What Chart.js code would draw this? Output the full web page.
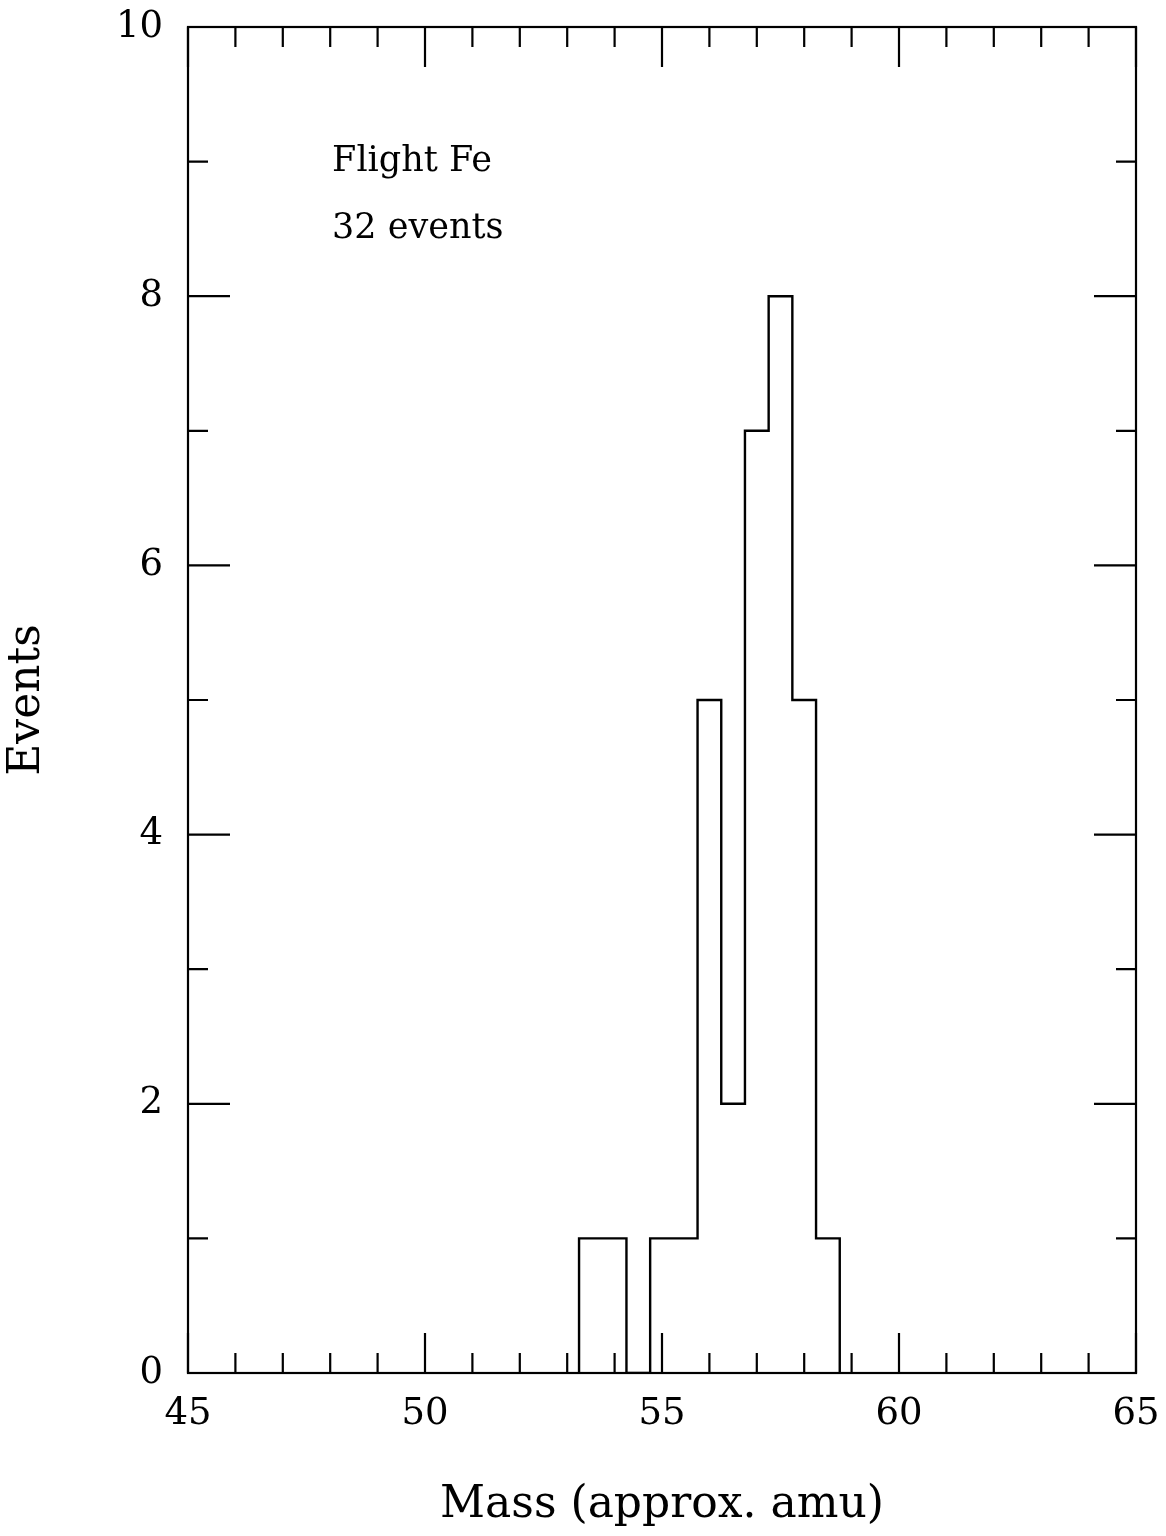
<!DOCTYPE html>
<html>
<head>
<meta charset="utf-8">
<title>Flight Fe mass histogram</title>
<script src="https://cdn.jsdelivr.net/npm/chart.js@4.4.1/dist/chart.umd.min.js"></script>
<style>
  html, body { margin: 0; padding: 0; background: #fff; }
  canvas { display: block; }
</style>
</head>
<body>
<canvas id="massChart" width="1166" height="1536"></canvas>
<script>
// 0.5 amu bins: left edges plus the final right edge, and counts per bin
const binEdges = [53.25, 53.75, 54.25, 54.75, 55.25, 55.75, 56.25, 56.75, 57.25, 57.75, 58.25, 58.75];
const binCounts = [1, 1, 0, 1, 1, 5, 2, 7, 8, 5, 1];
const xLabels = [45, 50, 55, 60, 65];
const yLabels = [0, 2, 4, 6, 8, 10];
const notes = ["Flight Fe", "32 events"];

const serif = '"DejaVu Serif", serif';

// outline of the histogram as stepped points
function stepPoints(edges, counts) {
  const pts = [{ x: edges[0], y: 0 }];
  for (let i = 0; i < counts.length; i++) pts.push({ x: edges[i], y: counts[i] });
  pts.push({ x: edges[edges.length - 1], y: 0 });
  return pts;
}

// box frame, inward ticks on all four sides, and the text notes
const frameTicks = {
  id: 'frameTicks',
  afterDatasetsDraw(chart) {
    const { ctx, chartArea: a, scales: { x, y } } = chart;
    ctx.save();
    ctx.strokeStyle = '#000';
    ctx.lineWidth = 2.2;
    ctx.strokeRect(a.left, a.top, a.right - a.left, a.bottom - a.top);
    ctx.beginPath();
    x.ticks.forEach(t => {
      const px = x.getPixelForValue(t.value);
      const len = xLabels.includes(t.value) ? 40 : 20;
      ctx.moveTo(px, a.bottom); ctx.lineTo(px, a.bottom - len);
      ctx.moveTo(px, a.top); ctx.lineTo(px, a.top + len);
    });
    y.ticks.forEach(t => {
      const py = y.getPixelForValue(t.value);
      const len = yLabels.includes(t.value) ? 42 : 20;
      ctx.moveTo(a.left, py); ctx.lineTo(a.left + len, py);
      ctx.moveTo(a.right, py); ctx.lineTo(a.right - len, py);
    });
    ctx.stroke();

    ctx.fillStyle = '#000';
    ctx.font = '35px ' + serif;
    ctx.textBaseline = 'alphabetic';
    ctx.textAlign = 'left';
    ctx.fillText(notes[0], x.getPixelForValue(48.04), y.getPixelForValue(8.93));
    ctx.fillText(notes[1], x.getPixelForValue(48.04), y.getPixelForValue(8.43));
    ctx.restore();
  }
};

// keep tick labels from shrinking the plot box
function noOverhang(s) {
  s.paddingLeft = 0; s.paddingRight = 0;
  s.paddingTop = 0; s.paddingBottom = 0;
}

const ctx = document.getElementById('massChart').getContext('2d');
new Chart(ctx, {
  type: 'line',
  data: {
    datasets: [{
      data: stepPoints(binEdges, binCounts),
      stepped: true,
      borderColor: '#000',
      borderWidth: 2.4,
      pointRadius: 0,
      fill: false
    }]
  },
  options: {
    responsive: false,
    animation: false,
    devicePixelRatio: 1,
    layout: { padding: { left: 0, right: 30, top: 27, bottom: 0 } },
    plugins: { legend: { display: false }, tooltip: { enabled: false } },
    scales: {
      x: {
        type: 'linear',
        min: 45,
        max: 65,
        afterFit: s => { s.height = 163; noOverhang(s); },
        grid: { display: false, drawTicks: false },
        border: { display: false },
        ticks: {
          stepSize: 1,
          autoSkip: false,
          maxRotation: 0,
          padding: 19,
          color: '#000',
          font: { family: serif, size: 37 },
          callback: v => xLabels.includes(v) ? String(v) : ''
        },
        title: {
          display: true,
          text: 'Mass (approx. amu)',
          color: '#000',
          font: { family: serif, size: 44, lineHeight: 1 },
          padding: { top: 0, bottom: 8 }
        }
      },
      y: {
        min: 0,
        max: 10,
        afterFit: s => { s.width = 188; noOverhang(s); },
        grid: { display: false, drawTicks: false },
        border: { display: false },
        ticks: {
          stepSize: 1,
          autoSkip: false,
          padding: 25,
          color: '#000',
          font: { family: serif, size: 37 },
          callback: v => yLabels.includes(v) ? String(v) : ''
        },
        title: {
          display: true,
          text: 'Events',
          color: '#000',
          font: { family: serif, size: 44, lineHeight: 1 },
          padding: { top: 6, bottom: 0 }
        }
      }
    }
  },
  plugins: [frameTicks]
});
</script>
</body>
</html>
